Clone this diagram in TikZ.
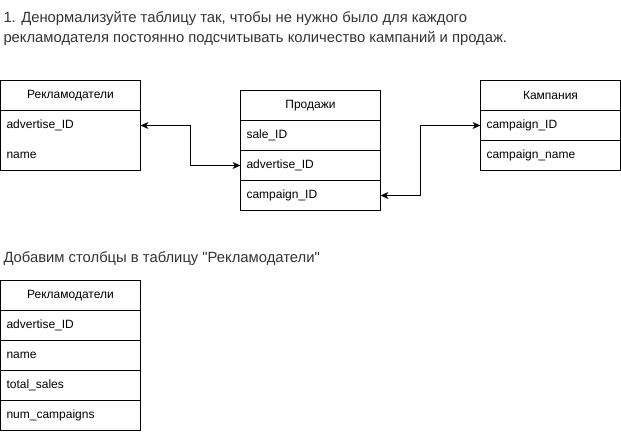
\documentclass[tikz,border=0pt]{standalone}
\usepackage{fontspec}
\setmainfont{Liberation Sans}[Ligatures=TeXOff]
\usetikzlibrary{positioning,calc,arrows.meta}
\definecolor{notegray}{HTML}{333333}
\tikzstyle{erd}=[
  x=1pt,y=-1pt,>={Stealth[length=8pt,width=7pt,inset=2.5pt]},font=\fontsize{12}{14}\selectfont,line width=1pt
]
\tikzstyle{thead}=[
  draw,rectangle,minimum width=140pt,minimum height=30pt,inner sep=0pt,outer sep=0pt
]
\tikzstyle{tcell}=[
  draw,rectangle,minimum width=140pt,minimum height=30pt,text width=128pt,align=left,inner xsep=6pt,inner ysep=0pt,outer sep=0pt
]
\tikzstyle{tfree}=[
  tcell,draw=none
]
\tikzstyle{link}=[
  <->,line width=1pt
]
\tikzstyle{note}=[
  anchor=base west,inner sep=0pt,text=notegray,font=\fontsize{14.8}{18}\selectfont
]

\begin{document}
\begin{tikzpicture}[erd]
  \useasboundingbox (0,0) rectangle (621,431);
  \node[note] (task) at (3,23) {1. Денормализуйте таблицу так, чтобы не нужно было для каждого};
  \node[note] (task2) at (3,42) {рекламодателя постоянно подсчитывать количество кампаний и продаж.};
  % Рекламодатели
  \node[thead] (r) at (70.5,95.5) {Рекламодатели};
  \node[tfree,below=0pt of r] (ra) {advertise\_ID};
  \node[tfree,below=0pt of ra] (rb) {name};
  \draw (ra.north west) rectangle (rb.south east);
  % Продажи
  \node[thead] (s) at (310.5,105.5) {Продажи};
  \node[tcell,below=0pt of s] (sa) {sale\_ID};
  \node[tcell,below=0pt of sa] (sb) {advertise\_ID};
  \node[tcell,below=0pt of sb] (sc) {campaign\_ID};
  % Кампания
  \node[thead] (k) at (550.5,95.5) {Кампания};
  \node[tcell,below=0pt of k] (ka) {campaign\_ID};
  \node[tcell,below=0pt of ka] (kb) {campaign\_name};
  % связи
  \draw[link] (ra.east) -- ++(50,0) |- (sb.west);
  \draw[link] (sc.east) -- ++(40,0) |- (ka.west);
  % новая таблица
  \node[note] (add) at (3,262) {Добавим столбцы в таблицу "Рекламодатели"};
  \node[thead] (n) at (70.5,295.5) {Рекламодатели};
  \node[tcell,below=0pt of n] (na) {advertise\_ID};
  \node[tcell,below=0pt of na] (nb) {name};
  \node[tcell,below=0pt of nb] (nc) {total\_sales};
  \node[tcell,below=0pt of nc] (nd) {num\_campaigns};
\end{tikzpicture}
\end{document}
